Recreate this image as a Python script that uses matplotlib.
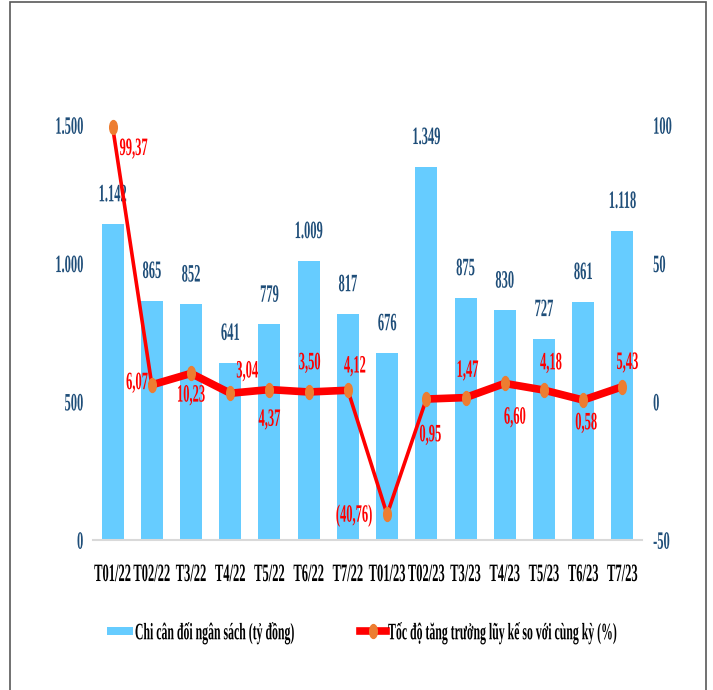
import matplotlib.pyplot as plt
from matplotlib.patches import Rectangle
from matplotlib.patheffects import AbstractPathEffect
from matplotlib.transforms import Affine2D
from matplotlib.path import Path

months = ['T01/22', 'T02/22', 'T3/22', 'T4/22', 'T5/22', 'T6/22', 'T7/22',
          'T01/23', 'T02/23', 'T3/23', 'T4/23', 'T5/23', 'T6/23', 'T7/23']
spending = [1142, 865, 852, 641, 779, 1009, 817, 676, 1349, 875, 830, 727, 861, 1118]
growth = [99.37, 6.07, 10.23, 3.04, 4.37, 3.50, 4.12, -40.76, 0.95, 1.47, 6.60, 4.18, 0.58, 5.43]
spending_labels = ['1.142', '865', '852', '641', '779', '1.009', '817', '676', '1.349',
                   '875', '830', '727', '861', '1.118']
growth_labels = ['99,37', '6,07', '10,23', '3,04', '4,37', '3,50', '4,12', '(40,76)',
                 '0,95', '1,47', '6,60', '4,18', '0,58', '5,43']
# label offsets in pixels from the marker (dx, dy, ha)
growth_offsets = [(21, -21, 'center'), (-4, 3, 'right'), (0, -21, 'center'),
                  (17, 23, 'center'), (0, -29, 'center'), (1, 30, 'center'),
                  (7, 25, 'center'), (-15, 0, 'right'), (4, -35, 'center'),
                  (2, 28, 'center'), (10, -33, 'center'), (7, 28, 'center'),
                  (3, -22, 'center'), (5, 25, 'center')]


class Stretch(AbstractPathEffect):
    # tall, narrow glyphs like the original export
    def __init__(self, sy=2.0, c=34):
        super().__init__()
        self.sy = sy
        self.c = c

    def draw_path(self, renderer, gc, tpath, affine, rgbFace=None):
        t = Affine2D().translate(0, -self.c).scale(1, self.sy).translate(0, self.c)
        renderer.draw_path(gc, tpath, t + affine, rgbFace)


TALL = [Stretch()]

plt.rcParams['font.family'] = ['Liberation Serif', 'DejaVu Serif']
plt.rcParams['font.weight'] = 'bold'

BAR = '#66CCFF'
NAVY = '#1F4E79'
RED = '#FF0000'
ORANGE = '#ED7D31'

ellipse = Path.unit_circle().transformed(Affine2D().scale(0.55, 1.0))

fig = plt.figure(figsize=(7.13, 6.9), dpi=100)
ax = fig.add_axes([93 / 713, 1 - 540 / 690, 549 / 713, 415 / 690])
x = list(range(len(months)))

bars = ax.bar(x, spending, width=0.56, color=BAR, label='Chi cân đối ngân sách (tỷ đồng)', zorder=2)
for xi, v, lab in zip(x, spending, spending_labels):
    ax.annotate(lab, (xi, v), xytext=(0, 30), textcoords='offset pixels',
                ha='center', va='center', color=NAVY, fontsize=9, fontweight='bold',
                path_effects=TALL)

ax.set_xlim(-0.5, 13.5)
ax.set_ylim(0, 1500)
ax.set_yticks([0, 500, 1000, 1500])
ax.set_yticklabels(['0', '500', '1.000', '1.500'])
ax.set_xticks(x)
ax.set_xticklabels(months)
ax.tick_params(axis='x', length=0, pad=20, labelsize=9, labelcolor='black')
ax.tick_params(axis='y', length=0, pad=7, labelsize=9, labelcolor=NAVY)
for s in ['top', 'right', 'left']:
    ax.spines[s].set_visible(False)
ax.spines['bottom'].set_color('#D9D9D9')
ax.spines['bottom'].set_linewidth(1.5)
for t in ax.get_xticklabels() + ax.get_yticklabels():
    t.set_path_effects(TALL)

ax2 = ax.twinx()
# steep segments look thinner than flat ones in the original
ax2.plot(x, growth, color=RED, linewidth=2.6, zorder=3)
for i in range(len(x) - 1):
    if abs(growth[i + 1] - growth[i]) < 20:
        ax2.plot(x[i:i + 2], growth[i:i + 2], color=RED, linewidth=5.5,
                 solid_capstyle='round', zorder=3)
line, = ax2.plot(x, growth, linestyle='none', marker=ellipse, markersize=10,
                 markerfacecolor=ORANGE, markeredgecolor=ORANGE, color=RED, linewidth=5.5,
                 label='Tốc độ tăng trưởng lũy kế so với cùng kỳ (%)', zorder=4, clip_on=False)
for xi, v, lab, (dx, dy, ha) in zip(x, growth, growth_labels, growth_offsets):
    ax2.annotate(lab, (xi, v), xytext=(dx, dy), textcoords='offset pixels',
                 ha=ha, va='center', color=RED, fontsize=9, fontweight='bold',
                 path_effects=TALL, zorder=5)
ax2.set_ylim(-50, 100)
ax2.set_yticks([-50, 0, 50, 100])
ax2.set_yticklabels(['-50', '0', '50', '100'])
ax2.tick_params(axis='y', length=0, pad=8, labelsize=9, labelcolor=NAVY)
for s in ['top', 'right', 'left', 'bottom']:
    ax2.spines[s].set_visible(False)
for t in ax2.get_yticklabels():
    t.set_path_effects(TALL)

leg_line = plt.Line2D([], [], color=RED, linewidth=5.5, marker=ellipse, markersize=10,
                      markerfacecolor=ORANGE, markeredgecolor=ORANGE)
leg = fig.legend([bars, leg_line], [bars.get_label(), line.get_label()], loc='center', ncol=2,
                 bbox_to_anchor=(0.508, 1 - 632 / 690), frameon=False, fontsize=8.5,
                 columnspacing=5.5, handlelength=2.2, handletextpad=0.2)
for t in leg.get_texts():
    t.set_path_effects(TALL)

fig.patches.append(Rectangle((10 / 713, -0.01), 696 / 713, 1 - 2 / 690 + 0.01,
                             transform=fig.transFigure, fill=False,
                             edgecolor='#595959', linewidth=1.2))

plt.savefig('out.png', dpi=100)
